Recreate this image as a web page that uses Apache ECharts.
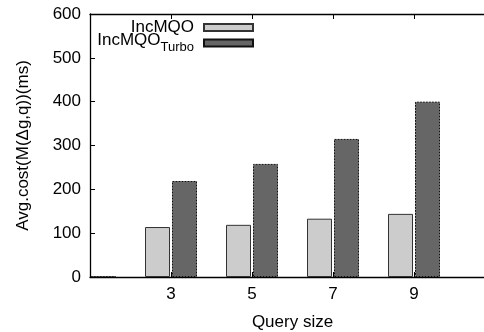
<!DOCTYPE html>
<html><head><meta charset="utf-8">
<script src="https://cdn.jsdelivr.net/npm/echarts@6/dist/echarts.min.js"></script>
<style>html,body{margin:0;padding:0;background:#fff}#c{width:484px;height:332px}</style>
</head><body><div id="c"></div>
<script>
var categories = ['1','2','3','4','5','6','7','8','9','10','11'];
var tickLabels = ['3','5','7','9'];
var incMQO =      [null, null, 114, null, 119, null, 133, null, 144, null, null];
var incMQOTurbo = [1,    null, 219, null, 258, null, 315, null, 400, null, null];
var yTicks = [0,100,200,300,400,500,600];

var FONT = 'Liberation Sans, Arial, Helvetica, sans-serif';
var chart = echarts.init(document.getElementById('c'));
function showTick(i){ return tickLabels.indexOf(categories[i]) >= 0; }
chart.setOption({
  animation: false,
  grid: {left: 90, right: -11, top: 14, bottom: 55, containLabel: false, outerBoundsMode: 'none'},
  legend: [{
    data: ['IncMQO'], orient: 'vertical', align: 'right', right: 225, top: 14,
    icon: 'rect', itemWidth: 49, itemHeight: 7, itemGap: 0,
    textStyle: {fontFamily: FONT, fontSize: 17, color: '#000', padding: [0, 5, 0, 0]}
  },{
    data: ['IncMQOTurbo'], orient: 'vertical', align: 'right', right: 225, top: 27,
    icon: 'rect', itemWidth: 49, itemHeight: 7, itemGap: 0,
    formatter: function(){ return '{a|IncMQO}{s|Turbo}'; },
    textStyle: {fontFamily: FONT, fontSize: 17, color: '#000', padding: [0, 5, 0, 0],
      rich: {a: {fontFamily: FONT, fontSize: 17, color: '#000', lineHeight: 22, verticalAlign: 'top'},
             s: {fontFamily: FONT, fontSize: 13, color: '#000', lineHeight: 22, verticalAlign: 'bottom'}}}
  }],
  xAxis: [{
    type: 'category', data: categories, boundaryGap: false, position: 'bottom',
    name: 'Query size', nameLocation: 'middle', nameGap: 37,
    nameTextStyle: {fontFamily: FONT, fontSize: 17, color: '#000'},
    axisLine: {lineStyle: {color: '#000', width: 1.3}},
    axisTick: {inside: true, length: 5, interval: function(i){ return showTick(i); }, lineStyle: {color: '#000'}},
    axisLabel: {interval: function(i){ return showTick(i); }, fontFamily: FONT, fontSize: 17, color: '#000', margin: 9},
    splitLine: {show: false}
  },{
    type: 'category', data: categories, boundaryGap: false, position: 'top',
    axisLine: {lineStyle: {color: '#000', width: 1.3}},
    axisTick: {inside: true, length: 5, interval: function(i){ return showTick(i); }, lineStyle: {color: '#000'}},
    axisLabel: {show: false}, splitLine: {show: false}
  }],
  yAxis: {
    type: 'value', min: 0, max: 600, interval: 100,
    name: 'Avg.cost(M(\u0394g,q))(ms)', nameLocation: 'middle', nameGap: 58,
    nameTextStyle: {fontFamily: FONT, fontSize: 17, color: '#000'},
    axisLine: {show: true, lineStyle: {color: '#000', width: 1.3}},
    axisTick: {show: true, inside: true, length: 5, lineStyle: {color: '#000'}},
    axisLabel: {fontFamily: FONT, fontSize: 17, color: '#000', margin: 9,
      formatter: function(v){ return yTicks.indexOf(v) >= 0 ? String(v) : ''; }},
    splitLine: {show: false}
  },
  series: [{
    name: 'IncMQO', type: 'bar', data: incMQO, barWidth: 25, barGap: '8%', clip: true,
    itemStyle: {color: '#cccccc', borderColor: '#333', borderWidth: 1}
  },{
    name: 'IncMQOTurbo', type: 'bar', data: incMQOTurbo, barWidth: 25, barGap: '8%', clip: true,
    itemStyle: {color: '#666666', borderColor: '#111', borderWidth: 1, borderType: [2, 1]}
  }]
});
</script></body></html>
